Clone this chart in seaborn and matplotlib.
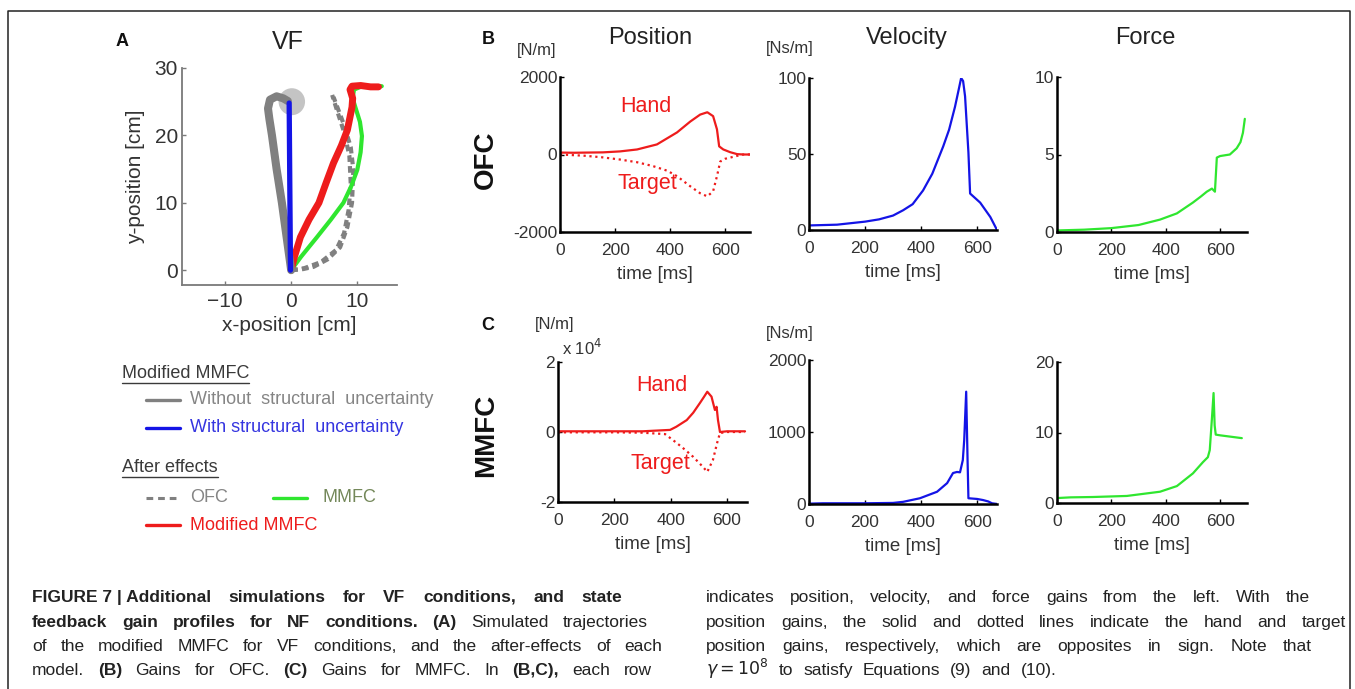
import numpy as np
import pandas as pd
import matplotlib
matplotlib.use("Agg")
import matplotlib.pyplot as plt
import seaborn as sns
from matplotlib.lines import Line2D
from matplotlib.patches import Circle

# ------------------------------------------------------------------
# DATA
# ------------------------------------------------------------------
# Panel A : hand trajectories in VF (cm)
a_gray_x = [0, -0.7, -1.4, -2.2, -2.9, -3.3, -3.5, -3.2, -2.2, -1.2, -0.5]
a_gray_y = [0, 5, 10, 15, 20, 22.5, 24, 25.3, 25.8, 25.5, 25.1]
a_blue_x = [-0.1, -0.2, -0.3]
a_blue_y = [0, 12, 24.8]
a_red_x = [0, 0.5, 1.4, 2.7, 4.2, 5.3, 6.4, 7.6, 8.5, 9.2, 9.3, 8.9, 9.2, 10.5, 12.0, 13.2]
a_red_y = [0, 2, 4.9, 7.5, 10, 13, 15.9, 18.5, 20.8, 24.2, 25.5, 26.8, 27.3, 27.4, 27.2, 27.2]
a_green_x = [0, 1.5, 3.9, 6.0, 7.9, 9.1, 10.0, 10.5, 10.7, 10.4, 9.7, 9.3, 9.5, 10.5, 12.0, 13.7]
a_green_y = [0, 2, 4.9, 7.5, 10, 12.5, 14.9, 17.5, 19.9, 22, 24.2, 25.5, 26.8, 27.2, 27.3, 27.3]
a_ofc1_x = [0, 1.5, 3.4, 5.5, 7.4, 8.5, 9.2, 9.4, 9.0, 7.9, 6.4]
a_ofc1_y = [0, 0.1, 0.5, 1.6, 3.4, 6.4, 10, 14.9, 18.3, 21.8, 25.7]
a_ofc2_x = [0, 2.0, 4.5, 6.8, 8.0, 8.7, 9.0, 8.8, 8.0, 7.0, 6.2]
a_ofc2_y = [0, 0.3, 1.2, 3.0, 5.5, 9.0, 13.0, 17.0, 20.5, 23.5, 26.0]
a_target = (0.1, 25.0, 2.0)          # centre x, centre y, radius (cm)

# Panel B (OFC) gains
b_pos_t = [0, 50, 100, 156, 218, 280, 352, 425, 473, 509, 535, 556, 570, 578, 593, 618, 643, 665, 690]
b_hand = [50, 45, 50, 55, 80, 130, 260, 570, 850, 1030, 1090, 990, 650, 210, 130, 60, 10, 0, 0]
b_tgt_t = [0, 85, 150, 218, 280, 338, 390, 425, 473, 509, 535, 556, 570, 582, 600, 618, 640, 665, 690]
b_target = [0, -30, -70, -130, -200, -300, -420, -560, -820, -1000, -1080, -950, -560, -180, -110, -80, -40, 0, 0]
b_vel_t = [0, 100, 200, 250, 300, 336, 370, 407, 440, 479, 500, 521, 535, 543, 550, 557, 569, 575, 611, 647, 671]
b_vel = [3, 3.5, 5.5, 7, 9.5, 13, 17, 26, 37, 55, 66, 81, 93, 100, 98, 88, 51, 24, 18, 8.6, 0]
b_frc_t = [0, 100, 200, 300, 379, 441, 500, 530, 551, 570, 581, 588, 600, 636, 661, 675, 684, 691]
b_frc = [0.1, 0.15, 0.25, 0.45, 0.8, 1.2, 1.9, 2.3, 2.6, 2.8, 2.6, 4.8, 4.9, 5.0, 5.4, 5.8, 6.4, 7.3]

# Panel C (MMFC) gains ; position in units of 1e4 N/m
c_hand_t = [0, 100, 200, 300, 398, 420, 457, 480, 504, 518, 530, 545, 557, 563, 568, 575, 600, 664]
c_hand = [0.02, 0.02, 0.02, 0.02, 0.06, 0.15, 0.34, 0.55, 0.83, 1.0, 1.15, 1.01, 0.63, 0.72, 0.34, 0.0, 0.02, 0.02]
c_tgt_t = [0, 100, 200, 300, 380, 421, 450, 480, 515, 530, 550, 565, 575, 600, 664]
c_target = [-0.01, -0.01, -0.01, -0.02, -0.06, -0.31, -0.5, -0.71, -1.0, -1.14, -0.8, -0.31, -0.03, 0, 0]
c_vel_t = [0, 50, 100, 200, 300, 336, 396, 457, 493, 514, 528, 539, 549, 554, 561, 566, 569, 600, 621, 640, 653, 672]
c_vel = [5, 10, 10, 10, 15, 30, 80, 170, 290, 430, 445, 440, 610, 890, 1560, 600, 80, 70, 55, 35, 10, 0]
c_frc_t = [0, 50, 132, 257, 379, 441, 500, 537, 555, 562, 570, 576, 580, 584, 600, 640, 680]
c_frc = [0.7, 0.8, 0.85, 1.0, 1.6, 2.4, 4.2, 5.8, 6.5, 7.5, 12, 15.6, 11, 9.7, 9.6, 9.4, 9.2]

# Tick labels
a_xticks = [-10, 0, 10]
a_xticklabels = ["\u221210", "0", "10"]
a_yticks = [0, 10, 20, 30]
time_ticks = [0, 200, 400, 600]
b_pos_ticks = [-2000, 0, 2000]
b_pos_labels = ["-2000", "0", "2000"]
b_vel_ticks = [0, 50, 100]
b_frc_ticks = [0, 5, 10]
c_pos_ticks = [-2, 0, 2]
c_pos_labels = ["-2", "0", "2"]
c_vel_ticks = [0, 1000, 2000]
c_frc_ticks = [0, 10, 20]

col_titles = ["Position", "Velocity", "Force"]
row_titles = ["OFC", "MMFC"]

# ------------------------------------------------------------------
# STYLE
# ------------------------------------------------------------------
sns.set_style("ticks")
plt.rcParams["font.family"] = ["Liberation Sans", "DejaVu Sans"]
plt.rcParams["axes.unicode_minus"] = False

W, H = 1355, 689
fig = plt.figure(figsize=(W / 100, H / 100), dpi=100)
fig.patch.set_facecolor("white")


def fx(px):
    return px / W


def fy(py):
    return 1 - py / H


def add_ax(x0, y0, x1, y1):
    return fig.add_axes([fx(x0), fy(y1), (x1 - x0) / W, (y1 - y0) / H])


RED = "#ee1c1c"
BLUE = "#1414e6"
GREEN = "#2fe62f"
GRAY = "#808080"
TXT = "#333333"


def style_gain_ax(ax, xmax, yticks, ylabels, ylim):
    ax.set_xlim(0, xmax)
    ax.set_ylim(*ylim)
    ax.set_xticks(time_ticks)
    ax.set_xticklabels([str(t) for t in time_ticks])
    ax.set_yticks(yticks)
    ax.set_yticklabels(ylabels)
    for s in ["top", "right"]:
        ax.spines[s].set_visible(False)
    for s in ["left", "bottom"]:
        ax.spines[s].set_color("black")
        ax.spines[s].set_linewidth(1.8)
    ax.tick_params(direction="in", length=3, width=1, labelsize=12.5,
                   colors="black")
    ax.tick_params(axis="y", pad=2)
    ax.tick_params(axis="x", pad=8)
    ax.tick_params(axis="both", labelcolor=TXT)
    ax.set_xlabel("time [ms]", fontsize=13.5, color=TXT, labelpad=6)
    ax.set_ylabel("")
    ax.set_facecolor("white")


def line(ax, x, y, color, lw, ls="-"):
    df = pd.DataFrame({"x": x, "y": y})
    sns.lineplot(data=df, x="x", y="y", ax=ax, sort=False, estimator=None,
                 color=color, linewidth=lw, linestyle=ls)


# ------------------------------------------------------------------
# PANEL A
# ------------------------------------------------------------------
axA = add_ax(182, 68, 397, 285)
axA.add_patch(Circle(a_target[:2], a_target[2], color="#c4c4c4", zorder=1, lw=0))
line(axA, a_ofc1_x, a_ofc1_y, GRAY, 3.0, (0, (1.6, 1.0)))
line(axA, a_ofc2_x, a_ofc2_y, GRAY, 3.0, (0, (1.6, 1.0)))
line(axA, a_green_x, a_green_y, GREEN, 3.0)
line(axA, a_red_x, a_red_y, RED, 5.0)
line(axA, a_gray_x, a_gray_y, GRAY, 5.8)
line(axA, a_blue_x, a_blue_y, BLUE, 3.8)
axA.set_xlim(-16.5, 16)
axA.set_ylim(-2.2, 30)
axA.set_xticks(a_xticks)
axA.set_xticklabels(a_xticklabels)
axA.set_yticks(a_yticks)
axA.set_yticklabels([str(v) for v in a_yticks])
for s in ["top", "right"]:
    axA.spines[s].set_visible(False)
for s in ["left", "bottom"]:
    axA.spines[s].set_color("#7a7a7a")
    axA.spines[s].set_linewidth(1.3)
axA.tick_params(direction="in", length=3, width=1, labelsize=15,
                colors="#7a7a7a", pad=3)
axA.tick_params(axis="x", pad=5)
axA.tick_params(axis="both", labelcolor=TXT)
axA.set_xlabel("x-position [cm]", fontsize=15, color=TXT, labelpad=4)
axA.set_ylabel("y-position [cm]", fontsize=15, color=TXT, labelpad=7)
fig.text(fx(288), fy(42), "VF", fontsize=18, ha="center", va="center", color="#222")
fig.text(fx(122), fy(41), "A", fontsize=13, fontweight="bold", ha="center", va="center", color="#111")

# ------------------------------------------------------------------
# PANELS B / C
# ------------------------------------------------------------------
axBp = add_ax(560, 77, 750, 232)
line(axBp, b_pos_t, b_hand, RED, 1.6)
line(axBp, b_tgt_t, b_target, RED, 1.6, ":")
style_gain_ax(axBp, 690, b_pos_ticks, b_pos_labels, (-2000, 2000))

axBv = add_ax(809, 78, 997, 230)
line(axBv, b_vel_t, b_vel, BLUE, 1.6)
style_gain_ax(axBv, 671, b_vel_ticks, [str(v) for v in b_vel_ticks], (0, 100))

axBf = add_ax(1057, 77, 1247, 232)
line(axBf, b_frc_t, b_frc, GREEN, 1.6)
style_gain_ax(axBf, 699, b_frc_ticks, [str(v) for v in b_frc_ticks], (0, 10))

axCp = add_ax(558, 362, 747, 502)
line(axCp, c_hand_t, c_hand, RED, 1.6)
line(axCp, c_tgt_t, c_target, RED, 1.6, ":")
style_gain_ax(axCp, 671, c_pos_ticks, c_pos_labels, (-2, 2))

axCv = add_ax(809, 360, 997, 504)
line(axCv, c_vel_t, c_vel, BLUE, 1.6)
style_gain_ax(axCv, 671, c_vel_ticks, [str(v) for v in c_vel_ticks], (0, 2000))

axCf = add_ax(1057, 362, 1247, 503)
line(axCf, c_frc_t, c_frc, GREEN, 1.6)
style_gain_ax(axCf, 699, c_frc_ticks, [str(v) for v in c_frc_ticks], (0, 20))

# Hand / Target annotations
for (x, y, s) in [(646, 106, "Hand"), (647, 183, "Target"), (662, 385, "Hand"), (660, 463, "Target")]:
    fig.text(fx(x), fy(y), s, fontsize=15.5, color=RED, ha="center", va="center")

# column titles, units, panel letters, row titles
for x, s in zip([650, 907, 1145], col_titles):
    fig.text(fx(x), fy(38), s, fontsize=17, ha="center", va="center", color="#222")
fig.text(fx(537), fy(50), "[N/m]", fontsize=12, ha="center", va="center", color=TXT)
fig.text(fx(790), fy(48), "[Ns/m]", fontsize=12, ha="center", va="center", color=TXT)
fig.text(fx(555), fy(325), "[N/m]", fontsize=12, ha="center", va="center", color=TXT)
fig.text(fx(790), fy(333), "[Ns/m]", fontsize=12, ha="center", va="center", color=TXT)
fig.text(fx(562), fy(348), r"x 10$^4$", fontsize=12, ha="left", va="center", color=TXT)
fig.text(fx(488), fy(39), "B", fontsize=13, fontweight="bold", ha="center", va="center", color="#111")
fig.text(fx(488), fy(325), "C", fontsize=13, fontweight="bold", ha="center", va="center", color="#111")
fig.text(fx(486), fy(160), row_titles[0], fontsize=20, fontweight="bold", rotation=90,
         ha="center", va="center", color="#111")
fig.text(fx(486), fy(435), row_titles[1], fontsize=20, fontweight="bold", rotation=90,
         ha="center", va="center", color="#111")

# ------------------------------------------------------------------
# LEGEND (figure level)
# ------------------------------------------------------------------
renderer = fig.canvas.get_renderer()


def heading(x, y, s):
    t = fig.text(fx(x), fy(y), s, fontsize=13, ha="left", va="center", color="#3a3a3a")
    bb = t.get_window_extent(renderer)
    fig.add_artist(Line2D([bb.x0 / W, bb.x1 / W], [(bb.y0 - 1) / H] * 2, color="#3a3a3a", lw=1.0))


def leg_item(x0, x1, y, color, ls, lw, label, tcolor, tx):
    fig.add_artist(Line2D([fx(x0), fx(x1)], [fy(y)] * 2, color=color, lw=lw, linestyle=ls))
    fig.text(fx(tx), fy(y), label, fontsize=13, ha="left", va="center", color=tcolor)


heading(122, 373, "Modified MMFC")
leg_item(146, 180, 400, GRAY, "-", 2.4, "Without  structural  uncertainty", "#858585", 190)
leg_item(146, 180, 428, BLUE, "-", 2.4, "With structural  uncertainty", "#3535e0", 190)
heading(122, 467, "After effects")
leg_item(146, 180, 498, GRAY, (0, (2.2, 1.6)), 2.2, "OFC", "#858585", 190)
leg_item(273, 307, 498, GREEN, "-", 2.4, "MMFC", "#74885a", 322)
leg_item(146, 180, 525, RED, "-", 2.4, "Modified MMFC", RED, 190)

# ------------------------------------------------------------------
# CAPTION
# ------------------------------------------------------------------
CAP_FONT = ["Liberation Sans", "DejaVu Sans"]
CAP_SIZE = 12.5


def tok(s, bold_words=()):
    return [(w, w in bold_words) for w in s.split(" ")]


def place_line(tokens, x0, x1, y, justify=True, gap=9):
    texts, widths = [], []
    for word, bold in tokens:
        t = fig.text(0, fy(y), word, fontsize=CAP_SIZE, family=CAP_FONT,
                     fontweight="bold" if bold else "normal",
                     ha="left", va="baseline", color="#222")
        widths.append(t.get_window_extent(renderer).width)
        texts.append(t)
    if justify and len(tokens) > 1:
        g = (x1 - x0 - sum(widths)) / (len(tokens) - 1)
    else:
        g = gap
    x = x0
    for t, w in zip(texts, widths):
        t.set_x(fx(x))
        x += w + g


l1 = [("FIGURE 7 | Additional", True)] + [(w, True) for w in "simulations for VF conditions, and state".split()]
l2 = [(w, True) for w in "feedback gain profiles for NF conditions. (A)".split()] + [("Simulated", False), ("trajectories", False)]
l3 = tok("of the modified MMFC for VF conditions, and the after-effects of each")
l4 = tok("model. (B) Gains for OFC. (C) Gains for MMFC. In (B,C), each row", ("(B)", "(C)", "(B,C),"))
r1 = tok("indicates position, velocity, and force gains from the left. With the")
r2 = tok("position gains, the solid and dotted lines indicate the hand and target")
r3 = tok("position gains, respectively, which are opposites in sign. Note that")
r4 = [(r"$\gamma = 10^8$", False)] + tok("to satisfy Equations (9) and (10).")

LX0, RX0 = 32, 706
place_line(l1, LX0, 622, 602)
place_line(l2, LX0, 648, 627)
place_line(l3, LX0, 662, 651)
place_line(l4, LX0, 652, 675)
place_line(r1, RX0, 1310, 602)
place_line(r2, RX0, 1346, 627)
place_line(r3, RX0, 1312, 651)
place_line(r4, RX0, 0, 675, justify=False, gap=10)

# ------------------------------------------------------------------
# FRAME (left, top, right edges)
# ------------------------------------------------------------------
fig.add_artist(Line2D([fx(8), fx(8), fx(1350), fx(1350)], [fy(689), fy(11), fy(11), fy(689)],
                      color="#222", lw=1.1))

fig.savefig("out.png", dpi=100, facecolor="white")
